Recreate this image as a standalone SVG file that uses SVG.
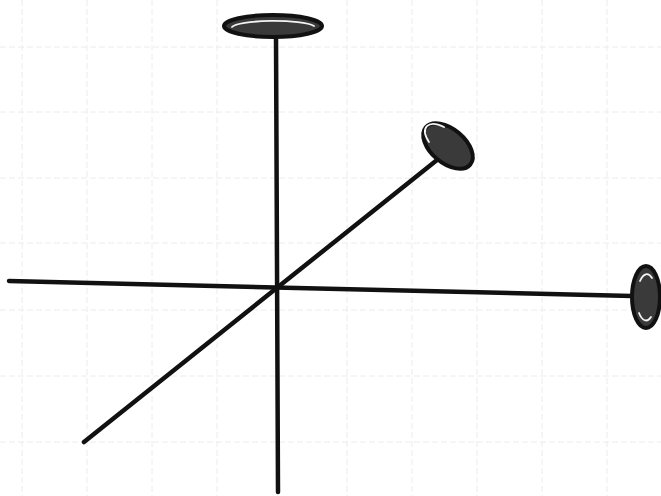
<svg xmlns="http://www.w3.org/2000/svg" width="661" height="496" viewBox="0 0 661 496">
<style>
.grid{stroke:#ececec;stroke-width:1;stroke-dasharray:6 3}
.axis{stroke:#111;stroke-width:4.5;stroke-linecap:round;fill:none}
.cap{fill:#3a3a3a;stroke:#111;stroke-width:4}
.ring{fill:none;stroke:#f4f4f4;stroke-width:1.8;stroke-linecap:round}
</style>
<rect width="661" height="496" fill="#ffffff"/>
<g id="grid">
<line class="grid" x1="22" y1="0" x2="22" y2="496"/>
<line class="grid" x1="87" y1="0" x2="87" y2="496"/>
<line class="grid" x1="152" y1="0" x2="152" y2="496"/>
<line class="grid" x1="217" y1="0" x2="217" y2="496"/>
<line class="grid" x1="347" y1="0" x2="347" y2="496"/>
<line class="grid" x1="412" y1="0" x2="412" y2="496"/>
<line class="grid" x1="477" y1="0" x2="477" y2="496"/>
<line class="grid" x1="542" y1="0" x2="542" y2="496"/>
<line class="grid" x1="607" y1="0" x2="607" y2="496"/>
<line class="grid" x1="0" y1="47" x2="661" y2="47"/>
<line class="grid" x1="0" y1="112" x2="661" y2="112"/>
<line class="grid" x1="0" y1="178" x2="661" y2="178"/>
<line class="grid" x1="0" y1="243" x2="661" y2="243"/>
<line class="grid" x1="0" y1="310" x2="661" y2="310"/>
<line class="grid" x1="0" y1="376" x2="661" y2="376"/>
<line class="grid" x1="0" y1="442" x2="661" y2="442"/>
</g>
<g id="connectors">
<line class="axis" x1="276" y1="36" x2="278" y2="492"/>
<line class="axis" x1="9" y1="281" x2="632" y2="296"/>
<line class="axis" x1="84" y1="442" x2="437" y2="160"/>
</g>
<g id="cap-top">
<ellipse class="cap" cx="273" cy="26" rx="49" ry="11"/>
<path class="ring" d="M232,27 A42,7 0 0 1 314,26"/>
</g>
<g id="cap-middle">
<ellipse class="cap" cx="448" cy="146" rx="29" ry="17" transform="rotate(40 448 146)"/>
<path class="ring" d="M429,142 A24,12 40 0 1 444,127"/>
</g>
<g id="cap-right">
<ellipse class="cap" cx="646" cy="297" rx="14" ry="31"/>
<path class="ring" d="M640,281 A10,26 0 0 1 652,278"/>
<path class="ring" d="M639,313 A10,26 0 0 0 651,317"/>
</g>
</svg>
